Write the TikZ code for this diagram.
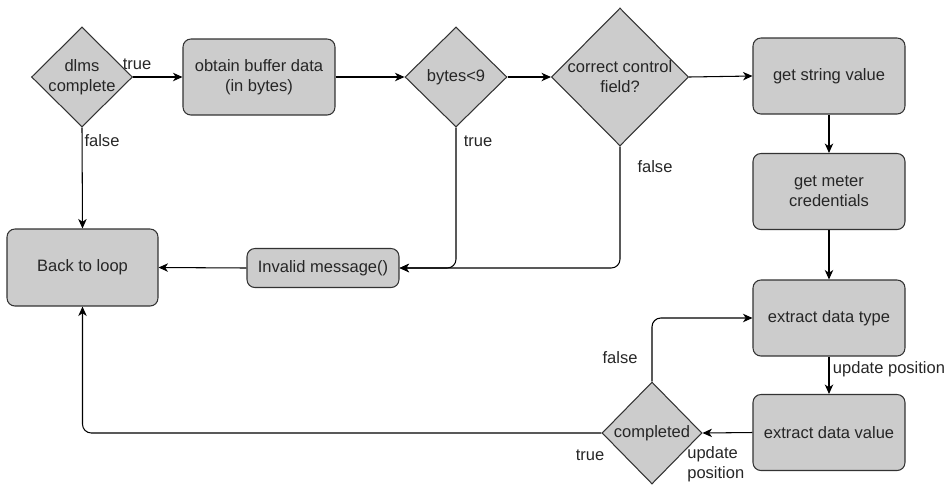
\documentclass[tikz,border=0pt]{standalone}
\usepackage{fontspec}
\setmainfont{Liberation Sans}
\usetikzlibrary{shapes.geometric,arrows.meta}
\definecolor{boxfill}{HTML}{CCCCCC}
\definecolor{boxline}{HTML}{333333}
\begin{document}
\begin{tikzpicture}[x=0.02cm,y=-0.02cm,
  every node/.style={font=\fontsize{9.4}{11.4}\selectfont, text=black!85},
  procbox/.style={draw=boxline, fill=boxfill, line width=0.6pt, rounded corners=4.5pt,
    minimum width=3.04cm, minimum height=1.52cm, align=center, inner sep=0pt},
  decide/.style={draw=boxline, fill=boxfill, line width=0.6pt, diamond, inner sep=0pt,
    aspect=1},
  flow/.style={draw=black, line width=0.6pt, rounded corners=5pt,
    -{Stealth[length=5.4pt,width=4.8pt,inset=1.6pt]}},
  note/.style={inner sep=0pt, align=left}
]
\useasboundingbox (0,0) rectangle (948,485);

% decision nodes
\node[decide, minimum width=2.02cm, minimum height=2.0cm,
  label={[align=center,font=\fontsize{9.4}{11.4}\selectfont]center:dlms\\complete}] (dlms) at (82,77) {};
\node[decide, minimum width=2.04cm, minimum height=2.0cm,
  label={[font=\fontsize{9.4}{11.4}\selectfont]center:bytes<9}] (bytes) at (456,77) {};
\node[decide, minimum width=2.74cm, minimum height=2.76cm,
  label={[align=center,font=\fontsize{9.4}{11.4}\selectfont]center:correct control\\field?}] (ctrl) at (620,77) {};
\node[decide, minimum width=2.0cm, minimum height=2.04cm,
  label={[font=\fontsize{9.4}{11.4}\selectfont]center:completed}] (done) at (652,433) {};

% process nodes
\node[procbox] (buffer) at (259,77) {obtain buffer data\\(in bytes)};
\node[procbox] (string) at (829,76) {get string value};
\node[procbox] (meter) at (829,191.5) {get meter\\credentials};
\node[procbox] (dtype) at (829,318) {extract data type};
\node[procbox] (dvalue) at (829,432.5) {extract data value};
\node[procbox, minimum width=3.02cm, minimum height=1.54cm] (loop) at (82.5,267.5) {Back to loop};
\node[procbox, minimum height=0.78cm] (invalid) at (323,268) {Invalid message()};

% connectors
\draw[flow] (dlms.east) -- (buffer.west);
\draw[flow] (buffer.east) -- (bytes.west);
\draw[flow] (bytes.east) -- (ctrl.west);
\draw[flow] (ctrl.east) -- (string.west);
\draw[flow] (string.south) -- (meter.north);
\draw[flow] (meter.south) -- (dtype.north);
\draw[flow] (dtype.south) -- (dvalue.north);
\draw[flow] (dvalue.west) -- (done.east);
\draw[flow] (dlms.south) -- (loop.north);
\draw[flow] (invalid.west) -- (loop.east);
\draw[flow] (bytes.south) |- (invalid.east);
\draw[flow] (ctrl.south) |- (invalid.east);
\draw[flow] (done.north) |- (dtype.west);
\draw[flow] (done.west) -| (loop.south);

% branch labels
\node[note] (t1) at (137,64) {true};
\node[note] (f1) at (102,141) {false};
\node[note] (t2) at (478,141) {true};
\node[note] (f2) at (655,167) {false};
\node[note] (u1) at (889,369) {update position};
\node[note, anchor=west] (u2) at (687,464) {update\\position};
\node[note] (f3) at (620,358) {false};
\node[note] (t3) at (590,455) {true};
\end{tikzpicture}
\end{document}
